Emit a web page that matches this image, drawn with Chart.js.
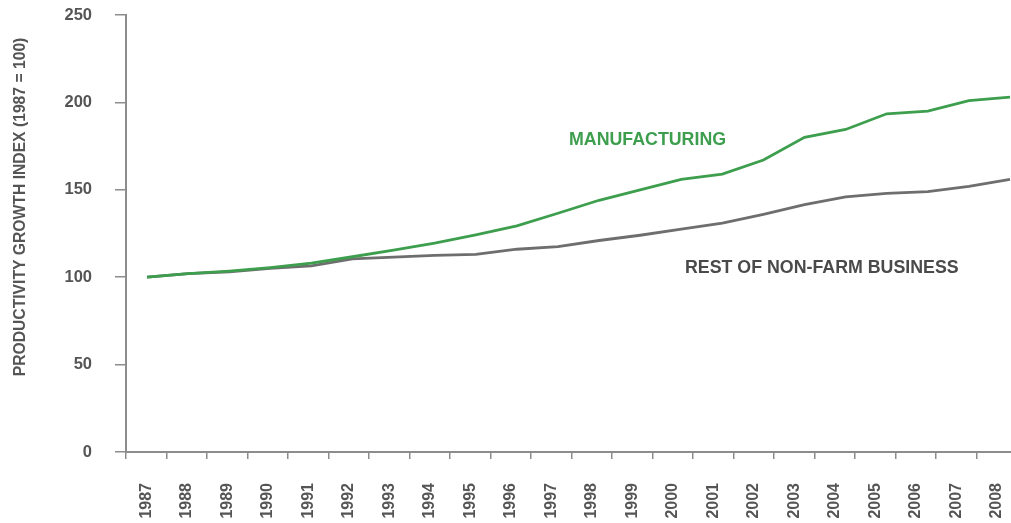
<!DOCTYPE html>
<html><head><meta charset="utf-8">
<script src="https://cdn.jsdelivr.net/npm/chart.js@4/dist/chart.umd.min.js"></script>
<style>html,body{margin:0;padding:0;background:#fff;overflow:hidden;width:1011px;height:523px}#wrap{width:1011px;height:523px;position:relative;overflow:hidden}canvas{display:block}</style>
</head><body><div id="wrap"><canvas id="c" width="1017" height="523"></canvas></div>
<script>
const years = ['1987','1988','1989','1990','1991','1992','1993','1994','1995','1996','1997','1998','1999','2000','2001','2002','2003','2004','2005','2006','2007','2008'];
const manufacturing = [100,102,103.5,105.5,108,111.7,115.5,119.5,124.2,129.4,136.6,144,150,156,159,167,180,184.5,193.5,195,201,203];
const restNonFarm = [100,102,103,105,106.5,110.5,111.5,112.5,113,116,117.5,121,124,127.5,131,136,141.5,146,148,149,152,156];
const yTicks = [0,50,100,150,200,250];
const yTitle = 'PRODUCTIVITY GROWTH INDEX (1987 = 100)';
const seriesLabels = ['MANUFACTURING','REST OF NON-FARM BUSINESS'];

const FONT = "'Liberation Sans', Arial, sans-serif";
const GREEN = '#3d9e4d';
const GREY_LINE = '#6e6e6e';
const AXIS = '#8c8c8c';
const TEXT = '#555555';

const annot = {
  id: 'annot',
  afterDraw(chart) {
    const ctx = chart.ctx;
    ctx.save();
    ctx.font = 'bold 15.7px ' + FONT;
    ctx.fillStyle = TEXT;
    ctx.textAlign = 'center';
    ctx.textBaseline = 'middle';
    ctx.translate(21, 207);
    ctx.rotate(-Math.PI / 2);
    ctx.fillText(yTitle, 0, 0);
    ctx.restore();

    ctx.save();
    ctx.font = 'bold 17.8px ' + FONT;
    ctx.textAlign = 'left';
    ctx.textBaseline = 'middle';
    ctx.fillStyle = GREEN;
    ctx.fillText(seriesLabels[0], 569, 140);
    ctx.fillStyle = '#4a4a4a';
    ctx.fillText(seriesLabels[1], 685, 268);
    ctx.restore();
  }
};

new Chart(document.getElementById('c'), {
  type: 'line',
  data: {
    labels: years,
    datasets: [
      { label: seriesLabels[0], data: manufacturing, xAxisID: 'x2', yAxisID: 'y', borderColor: GREEN, borderWidth: 2.8, pointRadius: 0, tension: 0, fill: false },
      { label: seriesLabels[1], data: restNonFarm, xAxisID: 'x2', yAxisID: 'y', borderColor: GREY_LINE, borderWidth: 2.8, pointRadius: 0, tension: 0, fill: false }
    ]
  },
  options: {
    responsive: false,
    devicePixelRatio: 1,
    animation: false,
    layout: { padding: { top: 15, right: 0, left: 0, bottom: 0 } },
    plugins: { legend: { display: false }, tooltip: { enabled: false }, title: { display: false } },
    scales: {
      x: {
        type: 'category',
        position: 'bottom',
        offset: true,
        grid: { offset: true, drawOnChartArea: false, drawTicks: true, tickLength: 7, color: AXIS, lineWidth: 1.5 },
        border: { display: true, color: AXIS, width: 2 },
        ticks: { autoSkip: false, minRotation: 90, maxRotation: 90, padding: 24, color: TEXT, font: { family: FONT, size: 16, weight: 'bold' } },
        afterFit: s => { s.height = 71; s.paddingLeft = 0; s.paddingRight = 0; }
      },
      x2: {
        type: 'linear',
        display: false,
        min: 1986.489,
        max: 2008.17
      },
      y: {
        type: 'linear',
        min: 0,
        max: 250,
        afterBuildTicks: s => { s.ticks = yTicks.map(v => ({ value: v })); },
        grid: { drawOnChartArea: false, drawTicks: true, tickLength: 11, color: AXIS, lineWidth: 1.5 },
        border: { display: true, color: AXIS, width: 2 },
        ticks: { padding: 23, color: TEXT, font: { family: FONT, size: 16.5, weight: 'bold' } },
        afterFit: s => { s.width = 126; s.paddingTop = 0; s.paddingBottom = 0; }
      }
    }
  },
  plugins: [annot]
});
</script>
</body></html>
